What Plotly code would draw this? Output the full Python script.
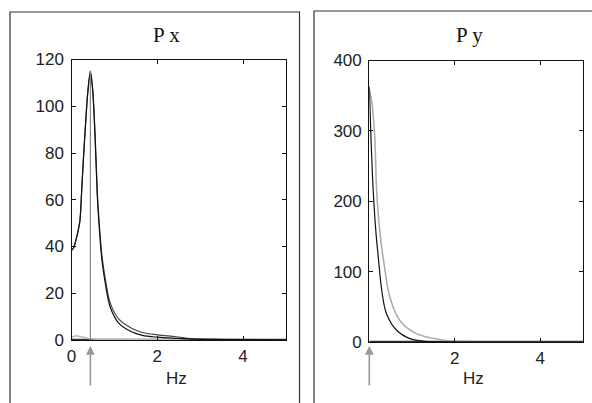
import plotly.graph_objects as go

W, H = 592, 403

# ---------------- data ----------------
px_freq = [0, 0.05, 0.10, 0.157, 0.196, 0.235, 0.27, 0.33, 0.38, 0.44, 0.49, 0.55, 0.60,
           0.63, 0.71, 0.79, 0.90, 1.10, 1.40, 1.65, 2.0, 2.44, 2.8, 3.5, 5.0]
px_inner = [38.4, 39.5, 42.5, 47, 51, 63, 75, 93, 106, 115, 107.5, 86, 62,
            52.6, 34, 24, 14.2, 7.2, 3.5, 2.0, 1.2, 0.7, 0.4, 0.2, 0.1]
px_outer = [38.4, 39.5, 42.5, 47, 51, 63, 75, 93, 106, 114, 108, 88, 64,
            54.5, 36, 26, 16, 9.0, 5.0, 3.2, 2.2, 1.4, 0.6, 0.3, 0.1]
px_noise_freq = [0, 0.1, 0.2, 0.3, 0.4, 0.6, 1.0, 2.0, 3.0, 5.0]
px_noise = [1.2, 1.8, 1.5, 1.0, 0.6, 0.3, 0.2, 0.1, 0.1, 0.1]

py_black_freq = [0, 0.04, 0.09, 0.156, 0.21, 0.29, 0.40, 0.64, 0.95, 1.3, 2.0, 5.0]
py_black = [363, 289, 217, 155, 121, 74, 40.6, 16.7, 4.8, 1.0, 0.3, 0.1]
py_gray_freq = [0, 0.06, 0.13, 0.17, 0.25, 0.365, 0.48, 0.71, 1.1, 1.71, 2.1, 3.0, 5.0]
py_gray = [360, 340, 289, 217, 155, 103, 64, 31, 12, 3.0, 1.0, 0.5, 0.2]

zero_freq = [0, 5]
zero_vals = [0, 0]

peak_freq_x = 0.44
peak_val_x = 115
peak_freq_y = 0.0

x_ticks = [0, 2, 4]
px_x_ticktext = ["0", "2", "4"]
py_x_ticktext = ["", "2", "4"]
px_y_ticks = [0, 20, 40, 60, 80, 100, 120]
py_y_ticks = [0, 100, 200, 300, 400]

titles = ["P x", "P y"]
x_label = "Hz"

# ---------------- layout helpers ----------------
def fx(px):
    return px / W

def fy(py):
    return 1 - py / H

fig = go.Figure()

fig.add_trace(go.Scatter(x=zero_freq, y=zero_vals, mode="lines",
                         line=dict(color="#333", width=2.5), xaxis="x", yaxis="y", showlegend=False))
fig.add_trace(go.Scatter(x=px_noise_freq, y=px_noise, mode="lines",
                         line=dict(color="#bbb", width=1.5), xaxis="x", yaxis="y", showlegend=False))
fig.add_trace(go.Scatter(x=px_freq, y=px_outer, mode="lines", line_shape="spline",
                         line=dict(color="#444", width=1.2), xaxis="x", yaxis="y", showlegend=False))
fig.add_trace(go.Scatter(x=px_freq, y=px_inner, mode="lines", line_shape="spline",
                         line=dict(color="#111", width=1.2), xaxis="x", yaxis="y", showlegend=False))

fig.add_trace(go.Scatter(x=zero_freq, y=zero_vals, mode="lines",
                         line=dict(color="#333", width=2.5), xaxis="x2", yaxis="y2", showlegend=False))
fig.add_trace(go.Scatter(x=py_gray_freq, y=py_gray, mode="lines", line_shape="spline",
                         line=dict(color="#aaa", width=1.5), xaxis="x2", yaxis="y2", showlegend=False))
fig.add_trace(go.Scatter(x=py_black_freq, y=py_black, mode="lines", line_shape="spline",
                         line=dict(color="#111", width=1.2), xaxis="x2", yaxis="y2", showlegend=False))

tickfont = dict(family="Liberation Sans, Arial, sans-serif", size=17, color="#222")
axis_common = dict(showgrid=False, zeroline=False, showline=True, linecolor="#111", linewidth=1.3,
                   mirror="ticks", ticks="inside", ticklen=4, tickcolor="#111", tickwidth=1,
                   tickfont=tickfont, fixedrange=True, automargin=False)

fig.update_layout(
    width=W, height=H,
    margin=dict(l=0, r=0, t=0, b=0, autoexpand=False),
    paper_bgcolor="white", plot_bgcolor="white",
    xaxis=dict(domain=[fx(71.5), fx(286)], range=[0, 5], tickvals=x_ticks, ticktext=px_x_ticktext,
               anchor="y", ticklabelstandoff=0, **axis_common),
    yaxis=dict(domain=[fy(340), fy(59.5)], range=[0, 120], tickvals=px_y_ticks, anchor="x",
               ticklabelstandoff=3, **axis_common),
    xaxis2=dict(domain=[fx(369.3), fx(583)], range=[0, 5], tickvals=x_ticks, ticktext=py_x_ticktext,
                anchor="y2", ticklabelstandoff=0, **axis_common),
    yaxis2=dict(domain=[fy(342), fy(60.5)], range=[0, 400], tickvals=py_y_ticks, anchor="x2",
                ticklabelstandoff=3, **axis_common),
)

fig.add_shape(type="rect", xref="paper", yref="paper", x0=fx(10), x1=fx(299.5), y0=fy(430), y1=fy(12),
              line=dict(color="#333", width=1.2), fillcolor="rgba(0,0,0,0)", layer="below")
fig.add_shape(type="rect", xref="paper", yref="paper", x0=fx(314), x1=fx(620), y0=fy(430), y1=fy(11),
              line=dict(color="#333", width=1.2), fillcolor="rgba(0,0,0,0)", layer="below")

fig.add_shape(type="line", xref="x", yref="y", x0=peak_freq_x, x1=peak_freq_x, y0=0, y1=peak_val_x,
              line=dict(color="#888", width=1.2))

for xr, xv in (("x", peak_freq_x), ("x2", peak_freq_y)):
    fig.add_annotation(x=xv, xref=xr, y=fy(346), yref="paper", ax=0, ay=41, axref="pixel", ayref="pixel",
                       showarrow=True, arrowhead=2, arrowsize=1.1, arrowwidth=1.6, arrowcolor="#999", text="")

for cx, t in ((166.7, titles[0]), (469, titles[1])):
    fig.add_annotation(x=fx(cx), y=fy(35), xref="paper", yref="paper", text=t, showarrow=False,
                       xanchor="center", yanchor="middle",
                       font=dict(family="Liberation Serif, Times New Roman, serif", size=21, color="#111"))

for cx in (176.5, 473.5):
    fig.add_annotation(x=fx(cx), y=fy(378), xref="paper", yref="paper", text=x_label, showarrow=False,
                       xanchor="center", yanchor="middle",
                       font=dict(family="Liberation Sans, Arial, sans-serif", size=17, color="#222"))

fig.write_html("out.html")
